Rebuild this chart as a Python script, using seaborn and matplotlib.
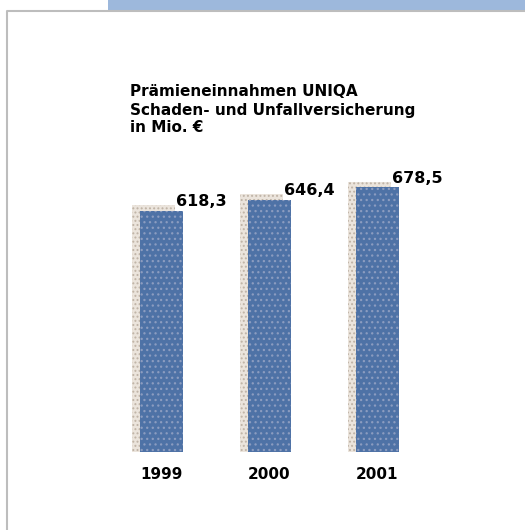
import matplotlib
matplotlib.use("Agg")
import matplotlib.pyplot as plt
import seaborn as sns
import pandas as pd
from matplotlib.patches import Rectangle
from matplotlib.lines import Line2D

years = ["1999", "2000", "2001"]
values = [618.3, 646.4, 678.5]
value_labels = ["618,3", "646,4", "678,5"]
title_lines = ["Prämieneinnahmen UNIQA", "Schaden- und Unfallversicherung", "in Mio. €"]

sns.set_theme(style="white")
plt.rcParams["font.family"] = ["DejaVu Sans"]
plt.rcParams["hatch.linewidth"] = 0.9

df = pd.DataFrame({"year": years, "value": values})

fig = plt.figure(figsize=(5.25, 5.30), dpi=100)
ax = fig.add_axes([0.2048, 0.1472, 0.617, 0.5887])

# shadow bars (offset behind main bars)
shadow_off = [0.074, 15]
ax.bar([i - shadow_off[0] for i in range(len(values))],
       [v + shadow_off[1] for v in values], width=0.4,
       color="#ebe4dc", edgecolor="#bfb3a6", linewidth=0, hatch="....", zorder=1)

sns.barplot(data=df, x="year", y="value", ax=ax, color="#4e72a6",
            width=0.4, saturation=1, zorder=2)
for p in ax.patches[len(values):]:
    p.set_hatch("...")
    p.set_edgecolor("#8b9cc0")
    p.set_linewidth(0)

for i, (v, lab) in enumerate(zip(values, value_labels)):
    ax.annotate(lab, xy=(i + 0.2, v), xytext=(-5, 1), textcoords="offset points",
                ha="left", va="bottom", fontsize=11.5, fontweight="bold", color="black")

ax.set_xlim(-0.5, 2.5)
ax.set_ylim(0, 800)
ax.set_xlabel("")
ax.set_ylabel("")
ax.set_yticks([])
ax.tick_params(axis="x", length=0, pad=11, labelsize=11, labelcolor="black")
for t in ax.get_xticklabels():
    t.set_fontweight("bold")
for s in ax.spines.values():
    s.set_visible(False)
ax.patch.set_alpha(0)

# title
for k, line in enumerate(title_lines):
    fig.text(130 / 525, 1 - (92 + 18 * k) / 530, line, ha="left", va="center",
             fontsize=11, fontweight="bold", color="black")

# frame decoration
fig.patches.append(Rectangle((108 / 525, 1 - 10 / 530), 1 - 108 / 525, 10 / 530,
                             transform=fig.transFigure, facecolor="#9db8dc",
                             edgecolor="none", zorder=0))
fig.lines.append(Line2D([7 / 525, 7 / 525, 1], [0, 1 - 10.5 / 530, 1 - 10.5 / 530],
                        transform=fig.transFigure, color="#bdbdbd", linewidth=1.5))

fig.savefig("out.png", dpi=100)
